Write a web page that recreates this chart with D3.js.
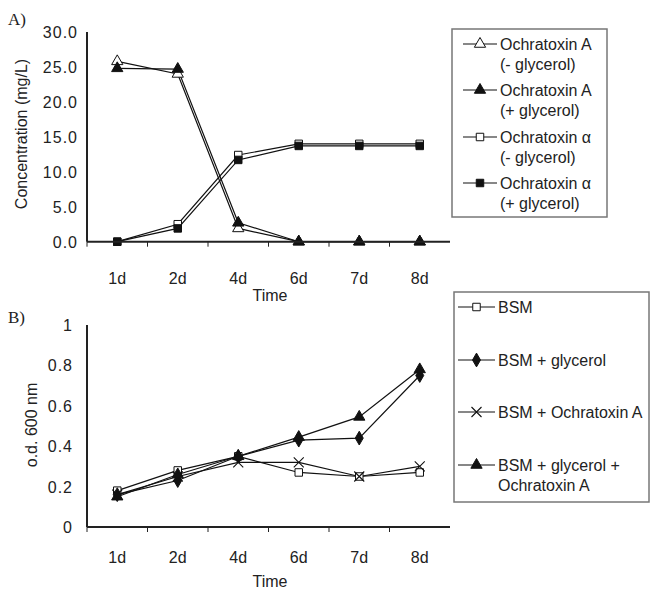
<!DOCTYPE html>
<html>
<head>
<meta charset="utf-8">
<script src="https://cdn.jsdelivr.net/npm/d3@7"></script>
<style>
  body { margin: 0; background: #fff; }
  text { font-family: "Liberation Sans", Arial, sans-serif; fill: #222; }
  .panel-label { font-family: "Liberation Serif", "Times New Roman", serif; }
</style>
</head>
<body>
<svg id="chart" width="651" height="590"></svg>
<script>
// Categories (sampling days)
const days = ['1d', '2d', '4d', '6d', '7d', '8d'];

// Panel A: concentration (mg/L)
const otaNoGly = [25.8, 24.0, 1.9, 0, 0, 0];
const otaGly = [24.8, 24.7, 2.7, 0, 0, 0];
const otAlphaNoGly = [0, 2.5, 12.4, 14.0, 14.0, 14.0];
const otAlphaGly = [0, 1.9, 11.7, 13.7, 13.7, 13.7];
const ticksA = [0, 5, 10, 15, 20, 25, 30];

// Panel B: o.d. 600 nm
const bsm = [0.18, 0.28, 0.35, 0.27, 0.25, 0.27];
const bsmGly = [0.16, 0.23, 0.35, 0.43, 0.44, 0.75];
const bsmOta = [0.16, 0.25, 0.32, 0.32, 0.25, 0.30];
const bsmGlyOta = [0.15, 0.26, 0.35, 0.445, 0.545, 0.78];
const ticksB = [0, 0.2, 0.4, 0.6, 0.8, 1];

const svg = d3.select('#chart');
svg.append('rect').attr('width', 651).attr('height', 590).attr('fill', '#fff');

const x = d3.scaleBand().domain(days).range([87, 450]);

// Marker shapes
const markerPath = (kind) => {
  if (kind === 'x') return 'M-5,-5L5,5M-5,5L5,-5';
  const types = { tri: d3.symbolTriangle, sq: d3.symbolSquare, dia: d3.symbolDiamond };
  const sizes = { tri: 55, sq: 56, dia: 55 };
  return d3.symbol().type(types[kind]).size(sizes[kind])();
};

const drawMarker = (g, kind, filled, cx, cy) => {
  g.append('path')
    .attr('d', markerPath(kind))
    .attr('transform', `translate(${cx},${cy})`)
    .attr('fill', kind === 'x' ? 'none' : (filled ? '#111' : '#fff'))
    .attr('stroke', '#111')
    .attr('stroke-width', kind === 'x' ? 1.1 : 1);
};

const drawPanel = (cfg) => {
  const g = svg.append('g');
  const y = cfg.y;
  const y0 = y(0);

  // Series lines and markers
  cfg.series.forEach(s => {
    const line = d3.line()
      .x((d, i) => x(days[i]) + x.bandwidth() / 2)
      .y(d => y(d));
    g.append('path')
      .attr('d', line(s.values))
      .attr('fill', 'none')
      .attr('stroke', '#111')
      .attr('stroke-width', 1.2);
  });
  cfg.series.forEach(s => {
    s.values.forEach((v, i) => {
      drawMarker(g, s.kind, s.filled, x(days[i]) + x.bandwidth() / 2, y(v));
    });
  });

  // Axes
  g.append('line')
    .attr('x1', x.range()[0]).attr('x2', x.range()[1])
    .attr('y1', y0).attr('y2', y0)
    .attr('stroke', '#222').attr('stroke-width', 2);
  g.append('line')
    .attr('x1', x.range()[0]).attr('x2', x.range()[0])
    .attr('y1', y.range()[1]).attr('y2', y0)
    .attr('stroke', '#222').attr('stroke-width', 2);
  days.forEach(d => {
    g.append('line')
      .attr('x1', x(d)).attr('x2', x(d))
      .attr('y1', y0).attr('y2', y0 + 5)
      .attr('stroke', '#222').attr('stroke-width', 1);
  });
  const labelY = y0 + cfg.dayGap;
  days.forEach(d => {
    g.append('text')
      .attr('x', x(d) + x.bandwidth() / 2)
      .attr('y', labelY)
      .attr('text-anchor', 'middle')
      .attr('font-size', 16)
      .text(d);
  });
  cfg.ticks.forEach(t => {
    g.append('text')
      .attr('x', cfg.tickRight)
      .attr('y', y(t) + 6)
      .attr('text-anchor', 'end')
      .attr('font-size', 16)
      .attr('letter-spacing', cfg.tickSpacing)
      .text(cfg.fmt(t));
  });

  // Titles
  g.append('text')
    .attr('x', 270).attr('y', cfg.timeY)
    .attr('text-anchor', 'middle')
    .attr('font-size', 16)
    .text('Time');
  g.append('text')
    .attr('transform', `translate(${cfg.yTitleX},${cfg.yTitleY}) rotate(-90)`)
    .attr('text-anchor', 'middle')
    .attr('font-size', 16)
    .text(cfg.yTitle);
  g.append('text')
    .attr('class', 'panel-label')
    .attr('x', 8).attr('y', cfg.labelY)
    .attr('font-size', 17)
    .text(cfg.label);

  // Legend
  const lg = svg.append('g');
  const b = cfg.legendBox;
  lg.append('rect')
    .attr('x', b[0]).attr('y', b[1]).attr('width', b[2]).attr('height', b[3])
    .attr('fill', 'none').attr('stroke', '#777').attr('stroke-width', 1.5);
  cfg.series.forEach((s, i) => {
    const ry = cfg.legendRows[i];
    lg.append('line')
      .attr('x1', cfg.legendLine[0]).attr('x2', cfg.legendLine[1])
      .attr('y1', ry).attr('y2', ry)
      .attr('stroke', '#111').attr('stroke-width', 1.2);
    drawMarker(lg, s.kind, s.filled, (cfg.legendLine[0] + cfg.legendLine[1]) / 2, ry);
    s.label.forEach((t, k) => {
      lg.append('text')
        .attr('x', cfg.legendLine[1] + 3)
        .attr('y', ry + 6 + k * 19.5)
        .attr('font-size', 16)
        .text(t);
    });
  });
};

drawPanel({
  label: 'A)', labelY: 25,
  y: d3.scaleLinear().domain([0, 30]).range([241.7, 32]),
  ticks: ticksA, fmt: d3.format('.1f'), tickRight: 78, tickSpacing: 1,
  yTitle: 'Concentration (mg/L)', yTitleX: 27, yTitleY: 134,
  dayGap: 42, timeY: 301,
  series: [
    { values: otaNoGly, kind: 'tri', filled: false, label: ['Ochratoxin A', '(- glycerol)'] },
    { values: otaGly, kind: 'tri', filled: true, label: ['Ochratoxin A', '(+ glycerol)'] },
    { values: otAlphaNoGly, kind: 'sq', filled: false, label: ['Ochratoxin α', '(- glycerol)'] },
    { values: otAlphaGly, kind: 'sq', filled: true, label: ['Ochratoxin α', '(+ glycerol)'] }
  ],
  legendBox: [452, 29, 155, 188],
  legendRows: [44, 90, 137, 183],
  legendLine: [463, 497]
});

drawPanel({
  label: 'B)', labelY: 323,
  y: d3.scaleLinear().domain([0, 1]).range([527, 325]),
  ticks: ticksB, fmt: d => d === 0 || d === 1 ? String(d) : d3.format('.1f')(d),
  tickRight: 73, tickSpacing: 1,
  yTitle: 'o.d. 600 nm', yTitleX: 37, yTitleY: 425,
  dayGap: 36, timeY: 587,
  series: [
    { values: bsm, kind: 'sq', filled: false, label: ['BSM'] },
    { values: bsmGly, kind: 'dia', filled: true, label: ['BSM + glycerol'] },
    { values: bsmOta, kind: 'x', filled: false, label: ['BSM + Ochratoxin A'] },
    { values: bsmGlyOta, kind: 'tri', filled: true, label: ['BSM + glycerol +', 'Ochratoxin A'] }
  ],
  legendBox: [454, 292, 195, 210],
  legendRows: [307, 360, 412, 465],
  legendLine: [458, 495]
});
</script>
</body>
</html>
